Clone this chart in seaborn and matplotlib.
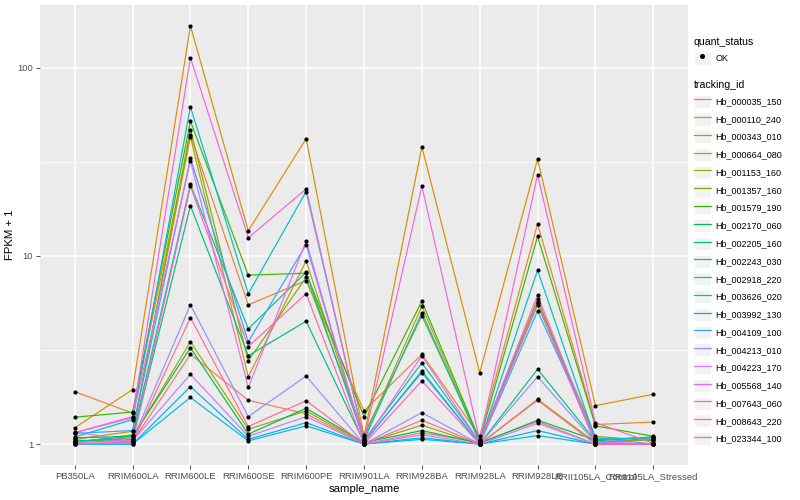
import numpy as np
import pandas as pd
import matplotlib
matplotlib.use("Agg")
import matplotlib.pyplot as plt
import seaborn as sns
from matplotlib.lines import Line2D
from matplotlib.patches import Rectangle

# =========================
# DATOS (FPKM + 1)
# =========================

sample_name = ["PB350LA", "RRIM600LA", "RRIM600LE", "RRIM600SE", "RRIM600PE",
               "RRIM901LA", "RRIM928BA", "RRIM928LA", "RRIM928LE",
               "RRII105LA_Control", "RRII105LA_Stressed"]

tracking_id = ["Hb_000035_150", "Hb_000110_240", "Hb_000343_010", "Hb_000664_080",
               "Hb_001153_160", "Hb_001357_160", "Hb_001579_190", "Hb_002170_060",
               "Hb_002205_160", "Hb_002243_030", "Hb_002918_220", "Hb_003626_020",
               "Hb_003992_130", "Hb_004109_100", "Hb_004213_010", "Hb_004223_170",
               "Hb_005568_140", "Hb_007643_060", "Hb_008643_220", "Hb_023344_100"]

colores = ["#F8766D", "#EA8331", "#D89000", "#C09B00", "#A3A500", "#7CAE00",
           "#39B600", "#00BB4E", "#00BF7D", "#00C1A3", "#00BFC4", "#00BAE0",
           "#00B0F6", "#35A2FF", "#9590FF", "#C77CFF", "#E76BF3", "#FA62DB",
           "#FF62BC", "#FF6C91"]

hb_000035_150 = [1.05, 1.03, 3.0, 1.71, 1.45, 1.0, 1.15, 1.02, 1.32, 1.0, 1.0]
hb_000110_240 = [1.9, 1.46, 44, 5.5, 7.4, 1.5, 3.0, 1.1, 14.8, 1.27, 1.31]
hb_000343_010 = [1.22, 1.95, 167, 13.6, 42, 1.1, 38, 2.4, 32.7, 1.6, 1.84]
hb_000664_080 = [1.06, 1.17, 43, 2.28, 9.4, 1.08, 5.4, 1.03, 5.9, 1.03, 1.05]
hb_001153_160 = [1.03, 1.08, 3.5, 1.2, 1.5, 1.01, 1.26, 1.0, 1.73, 1.02, 1.06]
hb_001357_160 = [1.02, 1.12, 47, 2.77, 7.7, 1.12, 4.8, 1.05, 5.7, 1.1, 1.04]
hb_001579_190 = [1.39, 1.48, 52, 7.9, 8.1, 1.4, 5.75, 1.05, 12.7, 1.25, 1.1]
hb_002170_060 = [1.08, 1.1, 3.25, 1.13, 1.55, 1.02, 1.18, 1.01, 1.34, 1.05, 1.09]
hb_002205_160 = [1.04, 1.06, 18.5, 2.95, 4.5, 1.02, 2.45, 1.0, 2.5, 1.04, 1.09]
hb_002243_030 = [1.03, 1.1, 24, 4.1, 8.2, 1.05, 2.7, 1.02, 5.5, 1.06, 1.08]
hb_002918_220 = [1.09, 1.35, 62, 6.3, 22, 1.05, 5.0, 1.02, 8.4, 1.06, 1.08]
hb_003626_020 = [1.0, 1.0, 1.77, 1.04, 1.25, 1.0, 1.06, 1.0, 1.11, 1.0, 1.0]
hb_003992_130 = [1.0, 1.0, 2.02, 1.06, 1.3, 1.0, 1.08, 1.0, 1.18, 1.0, 1.0]
hb_004109_100 = [1.14, 1.18, 33, 3.5, 11.5, 1.03, 2.4, 1.0, 5.1, 1.08, 1.0]
hb_004213_010 = [1.02, 1.05, 5.5, 1.4, 2.3, 1.0, 1.47, 1.0, 2.28, 1.02, 1.0]
hb_004223_170 = [1.16, 1.04, 2.35, 1.1, 1.4, 1.0, 1.12, 1.0, 1.29, 1.0, 1.0]
hb_005568_140 = [1.15, 1.38, 32, 2.0, 12, 1.02, 2.95, 1.02, 6.2, 1.03, 1.0]
hb_007643_060 = [1.15, 1.4, 113, 12.5, 22.7, 1.05, 23.5, 1.05, 27, 1.3, 1.01]
hb_008643_220 = [1.01, 1.02, 23.5, 3.3, 6.3, 1.0, 2.17, 1.0, 5.6, 1.0, 1.0]
hb_023344_100 = [1.0, 1.02, 4.7, 1.24, 1.7, 1.0, 1.34, 1.0, 1.71, 1.0, 1.0]

valores = [hb_000035_150, hb_000110_240, hb_000343_010, hb_000664_080,
           hb_001153_160, hb_001357_160, hb_001579_190, hb_002170_060,
           hb_002205_160, hb_002243_030, hb_002918_220, hb_003626_020,
           hb_003992_130, hb_004109_100, hb_004213_010, hb_004223_170,
           hb_005568_140, hb_007643_060, hb_008643_220, hb_023344_100]

# TABLA LARGA
filas = []
for tid, vals in zip(tracking_id, valores):
    for s, v in zip(sample_name, vals):
        filas.append({"tracking_id": tid, "sample_name": s,
                      "fpkm1": v, "quant_status": "OK"})
datos = pd.DataFrame(filas)

# =========================
# GRAFICO
# =========================

plt.rcParams["font.family"] = ["Liberation Sans", "DejaVu Sans"]

fig = plt.figure(figsize=(8, 5), dpi=100)
ax = fig.add_axes([40 / 800, 35 / 500, 648 / 800, 460 / 500])
ax.set_facecolor("#EBEBEB")

sns.lineplot(data=datos, x="sample_name", y="fpkm1", hue="tracking_id",
             hue_order=tracking_id, palette=colores, sort=False,
             estimator=None, linewidth=0.85, legend=False, ax=ax, zorder=2)
sns.scatterplot(data=datos, x="sample_name", y="fpkm1", color="black",
                s=9, linewidth=0, legend=False, ax=ax, zorder=3)

ax.set_yscale("log")
lo = np.log10(datos["fpkm1"].min())
hi = np.log10(datos["fpkm1"].max())
pad = (hi - lo) * 0.05
ax.set_ylim(10 ** (lo - pad), 10 ** (hi + pad))
ax.set_xlim(-0.6, len(sample_name) - 0.4)

ax.set_yticks([1, 10, 100])
ax.set_yticklabels(["1", "10", "100"])
ax.set_yticks([10 ** 0.5, 10 ** 1.5], minor=True)
ax.set_yticklabels([], minor=True)

ax.set_axisbelow(True)
ax.grid(which="major", color="white", linewidth=1.1)
ax.grid(which="minor", axis="y", color="white", linewidth=0.55)
for sp in ax.spines.values():
    sp.set_visible(False)

ax.tick_params(axis="both", which="major", length=3, width=0.6,
               color="#333333", labelcolor="#4D4D4D", labelsize=6.8, pad=2)
ax.tick_params(axis="y", which="minor", length=0)

ax.set_xlabel("sample_name", fontsize=8.2, color="black", labelpad=2)
ax.set_ylabel("FPKM + 1", fontsize=8.2, color="black", labelpad=2)

# =========================
# LEYENDAS
# =========================

def caja():
    return Rectangle((0, 0), 1, 1, facecolor="#F2F2F2", edgecolor="white",
                     linewidth=0.8)

punto = Line2D([], [], marker="o", color="black", linestyle="",
               markersize=2.6)
fig.legend(handles=[(caja(), punto)], labels=["OK"], title="quant_status",
           loc="upper left", bbox_to_anchor=(694 / 800, 1 - 37 / 500),
           frameon=False, fontsize=6.5, title_fontsize=7.6,
           handlelength=1.85, handleheight=1.85, handletextpad=0.5,
           labelspacing=0.52, alignment="left", borderpad=0,
           borderaxespad=0)

manejadores = [(caja(), Line2D([], [], color=c, linewidth=0.9)) for c in colores]
fig.legend(handles=manejadores, labels=tracking_id, title="tracking_id",
           loc="upper left", bbox_to_anchor=(694 / 800, 1 - 80 / 500),
           frameon=False, fontsize=6.5, title_fontsize=7.6,
           handlelength=1.85, handleheight=1.85, handletextpad=0.5,
           labelspacing=0.52, alignment="left", borderpad=0,
           borderaxespad=0)

plt.savefig("out.png", dpi=100)
plt.close()
